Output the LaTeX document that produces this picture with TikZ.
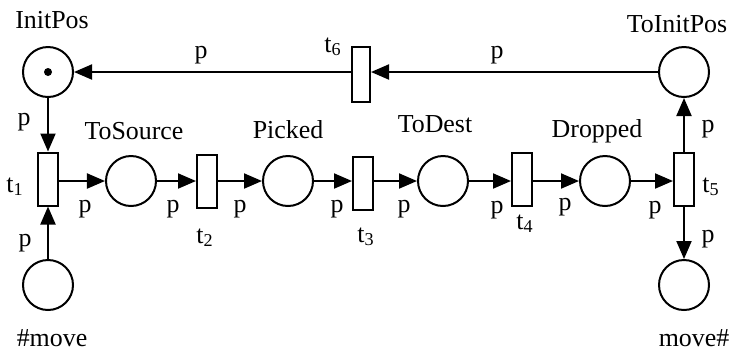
\documentclass[tikz,border=0pt]{standalone}
\usepackage{fontspec}
\setmainfont{Liberation Serif}
\usetikzlibrary{arrows.meta}

\tikzset{
	place/.style = {circle, draw, line width=1bp, minimum size=25bp, inner sep=0pt},
	trans/.style = {rectangle, draw, line width=1bp, minimum width=10bp, minimum height=26.5bp, inner sep=0pt},
	arc/.style = {line width=1bp, -{Triangle[length=9bp,width=7.5bp]}},
	txt/.style = {anchor=base, inner sep=0pt}
}

\begin{document}
\begin{tikzpicture}[x=0.5bp, y=-0.5bp, font=\fontsize{13}{15}\selectfont]
	\useasboundingbox (0,0) rectangle (733,351);
	% places
		\node[place] (InitPos) at (48,72) {};
		\node[place] (ToInitPos) at (684,72) {};
		\node[place] (moveIn) at (48,285) {};
		\node[place] (moveOut) at (684,285) {};
		\node[place] (ToSource) at (131,181) {};
		\node[place] (Picked) at (288,181) {};
		\node[place] (ToDest) at (443,181) {};
		\node[place] (Dropped) at (605,181) {};
		\fill (InitPos) circle (4);
	% transitions
		\node[trans] (t1) at (48,179) {};
		\node[trans] (t2) at (207,181) {};
		\node[trans] (t3) at (363,183) {};
		\node[trans] (t4) at (522,179) {};
		\node[trans] (t5) at (684,179) {};
		\node[trans, minimum width=9bp, minimum height=27.5bp] (t6) at (361,74) {};
	% arcs
		\draw[arc] (InitPos) -- (t1);
		\draw[arc] (moveIn) -- (t1);
		\draw[arc] (t1.east |- ToSource) -- (ToSource);
		\draw[arc] (ToSource) -- (ToSource -| t2.west);
		\draw[arc] (t2.east |- Picked) -- (Picked);
		\draw[arc] (Picked) -- (Picked -| t3.west);
		\draw[arc] (t3.east |- ToDest) -- (ToDest);
		\draw[arc] (ToDest) -- (ToDest -| t4.west);
		\draw[arc] (t4.east |- Dropped) -- (Dropped);
		\draw[arc] (Dropped) -- (Dropped -| t5.west);
		\draw[arc] (t5) -- (ToInitPos);
		\draw[arc] (t5) -- (moveOut);
		\draw[arc] (ToInitPos) -- (ToInitPos -| t6.east);
		\draw[arc] (t6.west |- InitPos) -- (InitPos);
	% names
		\node[txt] (lInitPos) at (52,28) {InitPos};
		\node[txt] (lToSource) at (134,139) {ToSource};
		\node[txt] (lPicked) at (288,138) {Picked};
		\node[txt] (lToDest) at (435,132) {ToDest};
		\node[txt] (lDropped) at (597,137) {Dropped};
		\node[txt] (lToInitPos) at (677,32) {ToInitPos};
		\node[txt] (lmoveIn) at (52,346) {\#move};
		\node[txt] (lmoveOut) at (694,346) {move\#};
		\foreach \i/\x/\y in {1/15/192, 2/205/243, 3/366/242, 4/525/229, 5/711/192, 6/333/52}
			\node[txt] (lt\i) at (\x,\y) {t\textsubscript{\i}};
	% arc weights
		\foreach \x/\y [count=\i] in {24/125, 85/212, 25/246, 173/212, 240/212, 337/212, 404/212,
			497/213, 565/210, 655/213, 708/132, 708/242, 497/58, 201/58}
			\node[txt] (w\i) at (\x,\y) {p};
\end{tikzpicture}
\end{document}
